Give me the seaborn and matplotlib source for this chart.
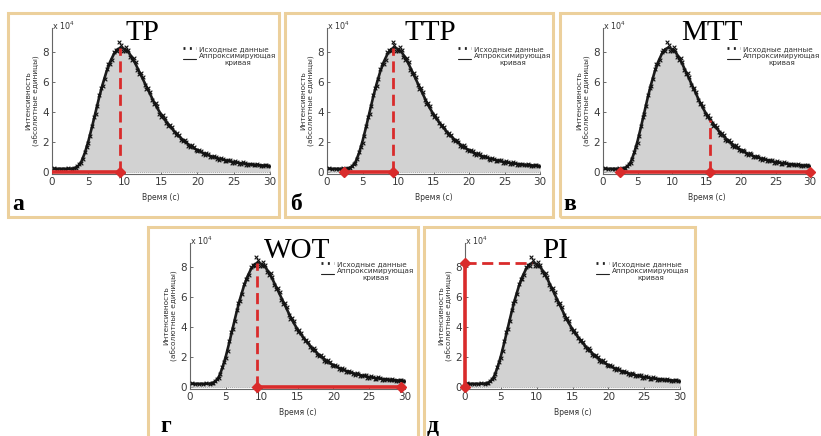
import numpy as np
import pandas as pd
import matplotlib
matplotlib.use("Agg")
import matplotlib.pyplot as plt
from matplotlib.patches import Rectangle
from matplotlib.lines import Line2D
import seaborn as sns

# ---------------- data (intensity in units of 1e4) ----------------
t_fit = [0, 0.5, 1, 1.5, 2, 2.5, 3, 3.5, 4, 4.5, 5, 5.5, 6, 6.5, 7, 7.5, 8, 8.5, 9, 9.5,
         10, 10.5, 11, 11.5, 12, 12.5, 13, 13.5, 14, 14.5, 15, 15.5, 16, 16.5, 17, 17.5,
         18, 18.5, 19, 19.5, 20, 20.5, 21, 21.5, 22, 22.5, 23, 23.5, 24, 24.5, 25, 25.5,
         26, 26.5, 27, 27.5, 28, 28.5, 29, 29.5, 30]
fit_vals = [0.22, 0.22, 0.22, 0.22, 0.22, 0.22, 0.25, 0.35, 0.65, 1.25, 2.05, 3.0, 4.0, 5.0,
            5.9, 6.7, 7.35, 7.85, 8.18, 8.3, 8.2, 8.0, 7.65, 7.2, 6.7, 6.2, 5.7, 5.2, 4.7,
            4.25, 3.85, 3.5, 3.2, 2.9, 2.62, 2.38, 2.15, 1.95, 1.77, 1.6, 1.46, 1.34, 1.23,
            1.13, 1.04, 0.96, 0.89, 0.83, 0.77, 0.72, 0.67, 0.63, 0.59, 0.56, 0.53, 0.5,
            0.48, 0.46, 0.44, 0.42, 0.4]

# raw measured samples (two interleaved acquisitions)
t_raw = [0.25, 0.75, 1.25, 1.75, 2.25, 2.75, 3.25, 3.75, 4.25, 4.75, 5.25, 5.75, 6.25, 6.75,
         7.25, 7.75, 8.25, 8.75, 9.25, 9.75, 10.25, 10.75, 11.25, 11.75, 12.25, 12.75, 13.25,
         13.75, 14.25, 14.75, 15.25, 15.75, 16.25, 16.75, 17.25, 17.75, 18.25, 18.75, 19.25,
         19.75, 20.25, 20.75, 21.25, 21.75, 22.25, 22.75, 23.25, 23.75, 24.25, 24.75, 25.25,
         25.75, 26.25, 26.75, 27.25, 27.75, 28.25, 28.75, 29.25, 29.75]
raw_vals = [0.24, 0.21, 0.23, 0.20, 0.24, 0.22, 0.30, 0.52, 0.85, 1.70, 2.40, 3.65, 4.40, 5.60,
            6.20, 7.20, 7.50, 8.15, 8.70, 8.05, 8.35, 7.70, 7.60, 6.80, 6.60, 5.80, 5.60, 4.80,
            4.60, 3.90, 3.80, 3.25, 3.15, 2.65, 2.60, 2.15, 2.15, 1.75, 1.80, 1.45, 1.50, 1.20,
            1.28, 1.00, 1.10, 0.85, 0.95, 0.74, 0.82, 0.62, 0.72, 0.56, 0.64, 0.50, 0.56, 0.45,
            0.52, 0.41, 0.47, 0.38]
t_raw2 = [3.0, 3.5, 4.0, 4.5, 5.0, 5.5, 6.0, 6.5, 7.0, 7.5, 8.0, 8.5, 9.0, 9.5, 10.0, 10.5,
          11.0, 11.5, 12.0, 12.5, 13.0, 13.5, 14.0, 14.5, 15.0, 15.5, 16.0, 16.5, 17.0, 17.5,
          18.0, 18.5, 19.0, 19.5, 20.0, 20.5, 21.0, 21.5, 22.0, 22.5, 23.0, 23.5, 24.0, 24.5,
          25.0, 25.5, 26.0, 26.5, 27.0, 27.5, 28.0, 28.5, 29.0, 29.5, 30.0]
raw_vals2 = [0.27, 0.40, 0.60, 1.35, 1.95, 3.10, 3.85, 5.15, 5.75, 6.85, 7.20, 8.00, 8.05, 8.45,
             8.05, 8.15, 7.50, 7.35, 6.55, 6.35, 5.55, 5.35, 4.55, 4.40, 3.70, 3.60, 3.05, 3.00,
             2.50, 2.48, 2.05, 2.02, 1.68, 1.68, 1.38, 1.42, 1.15, 1.20, 0.97, 1.02, 0.83, 0.90,
             0.71, 0.78, 0.62, 0.68, 0.54, 0.61, 0.49, 0.55, 0.44, 0.50, 0.40, 0.46, 0.37]

# key parameters (seconds / 1e4 units)
peak_t, peak_v = 9.3, 8.3
arrival_t = 2.4
mtt_t, mtt_v = 15.5, 3.5
end_t = 29.5

titles = ["TP", "TTP", "MTT", "WOT", "PI"]
letters = ["а", "б", "в", "г", "д"]
x_ticks = [0, 5, 10, 15, 20, 25, 30]
y_ticks = [0, 2, 4, 6, 8]
legend_labels = ["Исходные данные", "Аппроксимирующая\nкривая"]
ylabel_text = "Интенсивность\n(абсолютные единицы)"
xlabel_text = "Время (с)"

fit_df = pd.DataFrame({"t": t_fit, "v": fit_vals})
raw_df = pd.DataFrame({"t": t_raw + t_raw2, "v": raw_vals + raw_vals2})

# ---------------- style ----------------
sns.set_theme(style="ticks")
plt.rcParams["font.family"] = ["DejaVu Sans"]
plt.rcParams["axes.linewidth"] = 0.8

W, H = 821, 436
fig = plt.figure(figsize=(W / 100, H / 100), dpi=100)
fig.patch.set_facecolor("white")

RED = "#d92b2b"
TAN = "#ecd09c"
GRAY_FILL = "#d2d2d2"

# panel frames (px): x0, y0, x1, y1
frames = [(8, 13, 279, 217), (285, 13, 553, 217), (560, 13, 828, 217),
          (148, 227, 418, 445), (424, 227, 695, 445)]
# axes boxes (px): x0, x1, ytop, ybottom
boxes = [(52, 270, 28, 174), (327, 540, 28, 174), (603, 810, 28, 174),
         (190, 405, 243, 389), (465, 680, 243, 389)]
title_pos = [(12.5, 9.25), (14.5, 9.25), (15.8, 9.25), (14.9, 9.1), (12.6, 9.1)]
letter_pos = [(12, 210), (290, 210), (563, 210), (160, 432), (427, 432)]
legend_left_px = [131, 131, 124, 131, 131]

for (x0, y0, x1, y1) in frames:
    fig.patches.append(Rectangle((x0 / W, 1 - y1 / H), (x1 - x0) / W, (y1 - y0) / H,
                                 transform=fig.transFigure, fill=False,
                                 edgecolor=TAN, linewidth=2.2, zorder=0))

for i in range(5):
    x0, x1, yt, yb = boxes[i]
    ax = fig.add_axes([x0 / W, 1 - yb / H, (x1 - x0) / W, (yb - yt) / H])
    ax.set_facecolor("white")
    ax.fill_between(fit_df["t"], fit_df["v"], 0, color=GRAY_FILL, lw=0, zorder=1)
    ax.axhline(0, color="#9a9a9a", lw=0.6, ls=(0, (1, 1.5)), zorder=1.5)
    sns.lineplot(data=fit_df, x="t", y="v", ax=ax, color="#1c1c1c", lw=1.9, zorder=2.5)
    sns.scatterplot(data=raw_df, x="t", y="v", ax=ax, marker="x", s=7, color="#111111",
                    linewidth=0.8, zorder=3, legend=False)

    ax.set_xlim(0, 30)
    ax.set_ylim(-0.13, 9.6)
    ax.set_xticks(x_ticks)
    ax.set_yticks(y_ticks)
    ax.tick_params(direction="in", length=2.5, width=0.6, labelsize=7.5,
                   labelcolor="#3a3a3a", color="#555555", pad=2)
    for s in ["top", "right"]:
        ax.spines[s].set_visible(False)
    for s in ["left", "bottom"]:
        ax.spines[s].set_color("#666666")
    ax.set_xlabel("")
    ax.set_ylabel(ylabel_text, fontsize=5.3, color="#333333", labelpad=2)
    ax.text(0.5, -0.16, xlabel_text, transform=ax.transAxes, fontsize=5.5,
            color="#333333", ha="center", va="center")
    ax.text(0.0, 0.975, r"x 10$^4$", transform=ax.transAxes, fontsize=5.8,
            color="#333333", ha="left", va="bottom")

    # title
    tx, ty = title_pos[i]
    ax.text(tx, ty, titles[i], fontsize=21, family="Liberation Serif",
            color="black", ha="center", va="center", zorder=6)

    # legend
    handles = [Line2D([], [], color="#222222", ls=(0, (0.7, 1.6)), lw=2.0),
               Line2D([], [], color="#222222", ls="-", lw=0.8)]
    leg = ax.legend(handles, legend_labels, loc="upper left",
                    bbox_to_anchor=(legend_left_px[i] / (x1 - x0), 0.88), frameon=False,
                    fontsize=5.2, handlelength=1.8, handletextpad=0.4,
                    labelspacing=0.15, borderpad=0, borderaxespad=0)
    for txt in leg.get_texts():
        txt.set_multialignment("center")
        txt.set_color("#333333")

    # red annotations
    mk = dict(marker="D", markersize=5.5, color=RED, markeredgecolor=RED, zorder=8,
              clip_on=False)
    dash = (0, (4, 2))
    if i == 0:  # TP
        ax.plot([0, peak_t], [0, 0], color=RED, lw=2.6, zorder=7, solid_capstyle="butt")
        ax.plot([peak_t, peak_t], [0, peak_v], color=RED, lw=2.0, ls=dash, zorder=7)
        ax.plot([peak_t], [0], **mk)
    elif i == 1:  # TTP
        ax.plot([arrival_t, peak_t], [0, 0], color=RED, lw=2.6, zorder=7)
        ax.plot([peak_t, peak_t], [0, peak_v], color=RED, lw=2.0, ls=dash, zorder=7)
        ax.plot([arrival_t, peak_t], [0, 0], ls="none", **mk)
    elif i == 2:  # MTT
        ax.plot([arrival_t, 30], [0, 0], color=RED, lw=2.6, zorder=7, clip_on=False)
        ax.plot([mtt_t, mtt_t], [0, mtt_v], color=RED, lw=2.0, ls=dash, zorder=7)
        ax.plot([arrival_t, mtt_t, 30], [0, 0, 0], ls="none", **mk)
    elif i == 3:  # WOT
        ax.plot([peak_t, end_t], [0, 0], color=RED, lw=2.6, zorder=7)
        ax.plot([peak_t, peak_t], [0, peak_v], color=RED, lw=2.0, ls=dash, zorder=7)
        ax.plot([peak_t, end_t], [0, 0], ls="none", **mk)
    else:  # PI
        ax.plot([0, 0], [0, peak_v], color=RED, lw=2.6, zorder=7, clip_on=False)
        ax.plot([0, peak_t], [peak_v, peak_v], color=RED, lw=2.0, ls=dash, zorder=7)
        ax.plot([0, 0], [0, peak_v], ls="none", **mk)

# panel letters
for (lx, ly), lt in zip(letter_pos, letters):
    fig.text(lx / W, 1 - ly / H, lt, fontsize=17, fontweight="bold",
             family="Liberation Serif", ha="left", va="baseline", color="black")

fig.savefig("out.png", dpi=100, facecolor="white")
